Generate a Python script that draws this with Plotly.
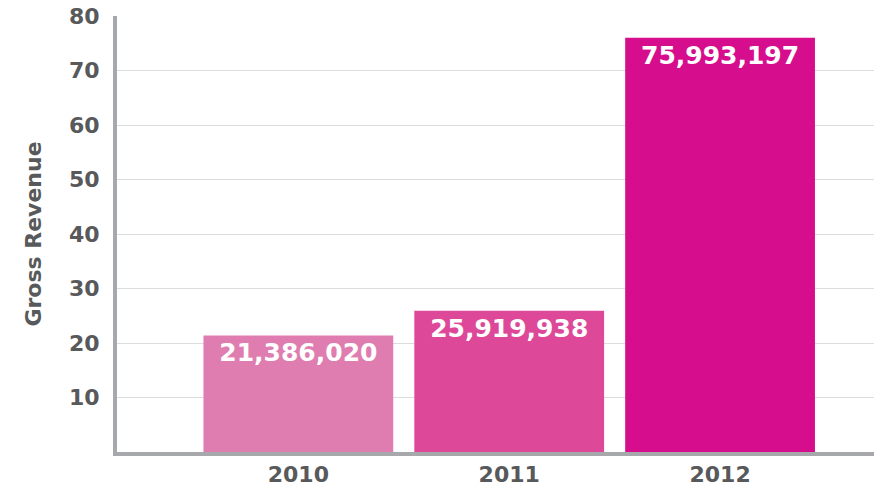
import plotly.graph_objects as go

years = ["2010", "2011", "2012"]
revenue_millions = [21.386020, 25.919938, 75.993197]
labels = ["21,386,020", "25,919,938", "75,993,197"]
colors = ["#e07db0", "#dd4898", "#d60d8c"]
y_ticks = [10, 20, 30, 40, 50, 60, 70, 80]

FONT = "DejaVu Sans, Liberation Sans, Arial, sans-serif"

fig = go.Figure(go.Bar(
    x=years, y=revenue_millions, text=labels,
    marker=dict(color=colors, line=dict(width=0)),
    width=0.9,
    textposition="inside", insidetextanchor="end",
    textfont=dict(family=FONT, size=25, color="white", weight="bold"),
    textangle=0, cliponaxis=False, hoverinfo="skip",
))

tick_font = dict(family=FONT, size=22, color="#58595b", weight="bold")

fig.update_layout(
    width=874, height=489,
    margin=dict(l=117, r=0, t=16, b=37),
    paper_bgcolor="white", plot_bgcolor="white",
    showlegend=False,
    xaxis=dict(
        type="category", range=[-0.86, 2.73], automargin=False,
        showline=True, linecolor="#a7a8ab", linewidth=4,
        showgrid=False, ticks="", tickfont=tick_font, ticklabelstandoff=0,
        zeroline=False,
    ),
    yaxis=dict(
        range=[0, 80], tickvals=y_ticks, automargin=False,
        showline=True, linecolor="#a7a8ab", linewidth=4,
        showgrid=True, gridcolor="#dcdcdc", gridwidth=1,
        zeroline=False, ticks="", tickfont=tick_font, ticklabelstandoff=9,
        title=dict(text="Gross Revenue", standoff=22,
                   font=dict(family=FONT, size=22, color="#58595b", weight="bold")),
    ),
)

fig.write_html("out.html", config={"displayModeBar": False},
               post_script="document.body.style.margin='0';document.body.style.overflow='hidden';")
